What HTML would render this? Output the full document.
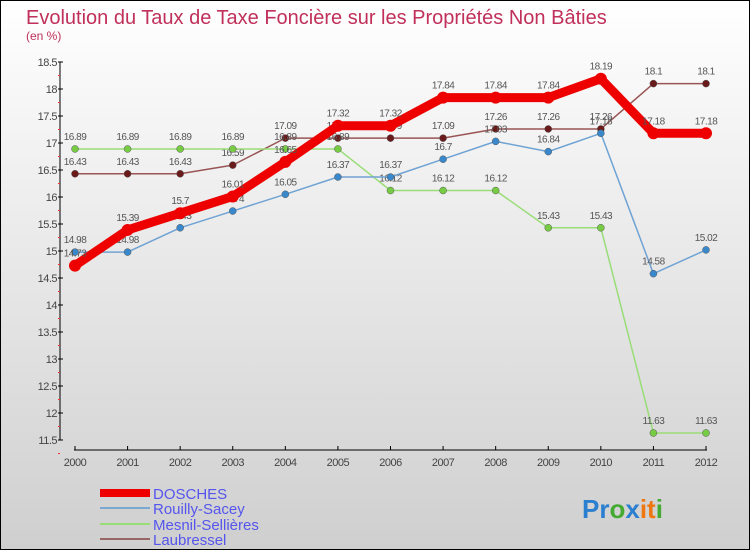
<!DOCTYPE html>
<html><head><meta charset="utf-8"><style>
body{margin:0}
svg{display:block;font-family:"Liberation Sans",sans-serif}
</style></head><body>
<svg width="750" height="550">
<defs><linearGradient id="bg" x1="0" y1="0" x2="0" y2="1"><stop offset="0" stop-color="#ffffff"/><stop offset="1" stop-color="#cfcfcf"/></linearGradient></defs>
<rect x="0.5" y="0.5" width="749" height="549" fill="url(#bg)" stroke="#000"/>
<text x="26" y="24" font-size="20" fill="#c0305a">Evolution du Taux de Taxe Foncière sur les Propriétés Non Bâties</text>
<text x="26" y="40" font-size="12" fill="#c0305a">(en %)</text>
<g id="axes"></g>
<g id="series"></g>
<g id="legend">
<rect x="100" y="489" width="50" height="8" fill="#e00"/>
<text x="153" y="499" font-size="15" fill="#5555ee">DOSCHES</text>
<line x1="100" y1="508" x2="150" y2="508" stroke="#7aa8d0" stroke-width="2"/>
<text x="153" y="514" font-size="15" fill="#5555ee">Rouilly-Sacey</text>
<line x1="100" y1="524" x2="150" y2="524" stroke="#99dd77" stroke-width="2"/>
<text x="153" y="530" font-size="15" fill="#5555ee">Mesnil-Sellières</text>
<line x1="100" y1="539" x2="150" y2="539" stroke="#996666" stroke-width="2"/>
<text x="153" y="545" font-size="15" fill="#5555ee">Laubressel</text>
</g>
<text x="582" y="518" font-size="26" font-weight="bold"><tspan fill="#2a7fd0">Pr</tspan><tspan fill="#44aa33">o</tspan><tspan fill="#2a7fd0">x</tspan><tspan fill="#ee7711">it</tspan><tspan fill="#44aa33">i</tspan></text>
</svg>
<script>
const years=["2000","2001","2002","2003","2004","2005","2006","2007","2008","2009","2010","2011","2012"];
const yTicks=[11.5,12,12.5,13,13.5,14,14.5,15,15.5,16,16.5,17,17.5,18,18.5];
const dosches=[14.73,15.39,15.7,16.01,16.65,17.32,17.32,17.84,17.84,17.84,18.19,17.18,17.18];
const rouilly=[14.98,14.98,15.43,15.74,16.05,16.37,16.37,16.7,17.03,16.84,17.18,14.58,15.02];
const mesnil=[16.89,16.89,16.89,16.89,16.89,16.89,16.12,16.12,16.12,15.43,15.43,11.63,11.63];
const laubressel=[16.43,16.43,16.43,16.59,17.09,17.09,17.09,17.09,17.26,17.26,17.26,18.1,18.1];
const NS="http://www.w3.org/2000/svg";
const xs=i=>75+i*(706-75)/12;
const ys=v=>62+(18.5-v)*54;
function mk(t,a,p){const e=document.createElementNS(NS,t);for(const k in a)e.setAttribute(k,a[k]);p.appendChild(e);return e;}
const ax=document.getElementById('axes');
const yl=mk('line',{x1:60,y1:62,x2:60,y2:440,stroke:'#000'},ax);


yTicks.forEach(v=>{
 mk('line',{x1:58,y1:ys(v),x2:63,y2:ys(v),stroke:'#000'},ax);
 mk('line',{x1:58,y1:ys(v-0.25),x2:60,y2:ys(v-0.25),stroke:'#e33'},ax);
 const t=mk('text',{x:57,y:ys(v)+4,'font-size':11,'text-anchor':'end',fill:'#444','letter-spacing':'-0.5'},ax);
 t.textContent=String(v);
 
 
});
const xl=mk('line',{x1:74,y1:450,x2:707,y2:450,stroke:'#000'},ax);


years.forEach((y,i)=>{
 mk('line',{x1:xs(i),y1:446,x2:xs(i),y2:450,stroke:'#000'},ax);
 const t=mk('text',{x:xs(i),y:466,'font-size':11,'text-anchor':'middle',fill:'#444','letter-spacing':'-0.5'},ax);
 t.textContent=y;
 
 
});
const sg=document.getElementById('series');
function series(name,vals,color,w,dot,dotFill){
 const g=mk('g',{},sg);
 
 
 const l=mk('polyline',{points:vals.map((v,i)=>xs(i)+','+ys(v)).join(' '),fill:'none',stroke:color,'stroke-width':w,'stroke-linejoin':'round'},g);
 
 
 vals.forEach((v,i)=>{
  const c=mk('circle',{cx:xs(i),cy:ys(v),r:dot,fill:dotFill,stroke:w>3?'none':'#555','stroke-width':0.5},g);
  
  
  const t=mk('text',{x:xs(i),y:ys(v)-9,'font-size':10,'text-anchor':'middle',fill:'#555','letter-spacing':'-0.5'},g);
  t.textContent=String(v);
  
  
 });
}
series('laubressel',laubressel,'#995555',1.5,3.5,'#6a1a1a');
series('mesnil',mesnil,'#99dd77',1.5,3.5,'#77cc44');
series('rouilly',rouilly,'#6fa3d3',1.5,3.5,'#3a88cc');
series('dosches',dosches,'#ee0000',9,6,'#ee0000');
</script>
</body></html>
